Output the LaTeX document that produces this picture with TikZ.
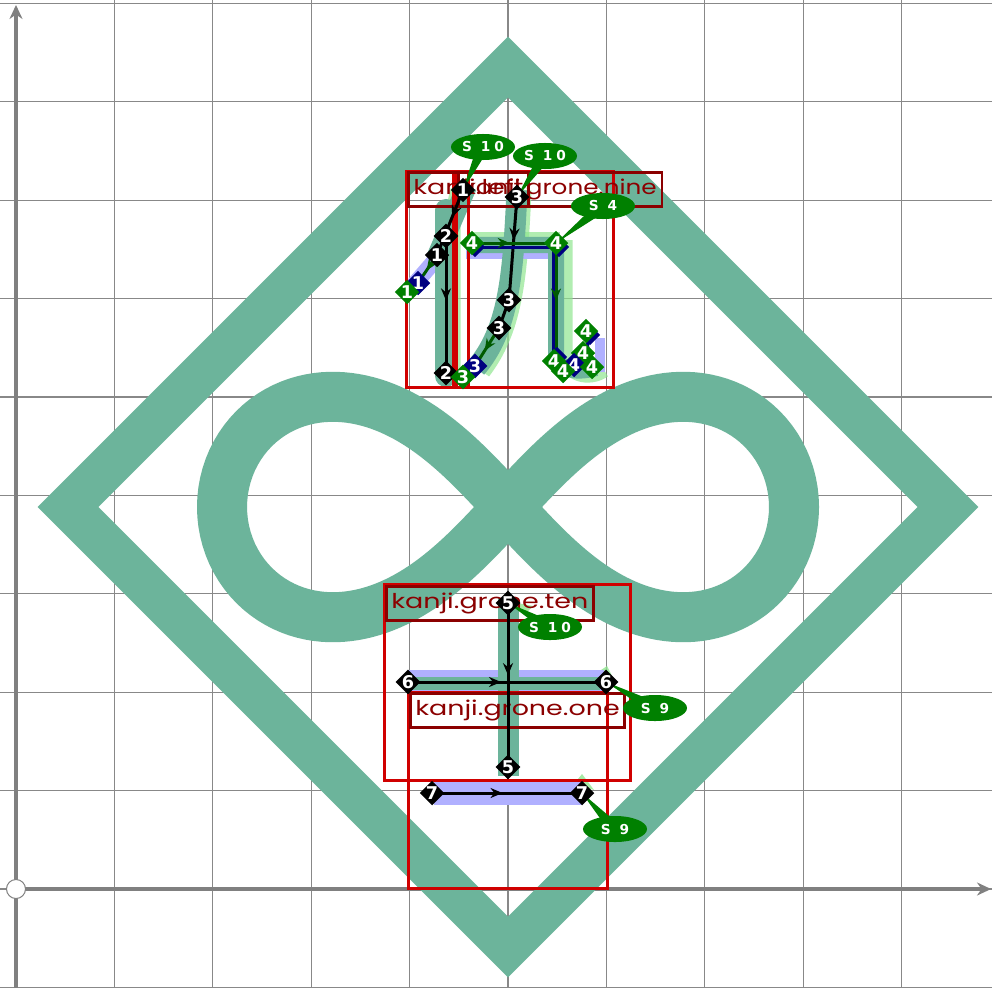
\documentclass[tikz,border=0pt]{standalone}
\usepackage{fontspec}
\setmainfont{DejaVu Sans}
\newfontfamily\labelfont{Poppins}
\newfontfamily\callfont{DejaVu Sans}[LetterSpace=30]
\usetikzlibrary{shapes.geometric,arrows.meta,decorations.markings,calc}
\definecolor{teal2}{RGB}{108,180,155}
\definecolor{lav}{RGB}{176,176,255}
\definecolor{lgreen}{RGB}{144,230,144}
\definecolor{cgreen}{RGB}{0,128,0}
\definecolor{dkgreen}{RGB}{0,90,0}
\definecolor{navy2}{RGB}{0,0,128}
\definecolor{gred}{RGB}{208,0,0}
\definecolor{lred}{RGB}{139,0,0}
\definecolor{gridgray}{RGB}{136,136,136}
\definecolor{axisgray}{RGB}{128,128,128}
\tikzset{
  mk/.style={diamond, aspect=1, inner sep=0pt, minimum size=0.21cm, text=white, font=\bfseries\fontsize{5}{5}\selectfont},
  mkblack/.style={mk, fill=black},
  mkgreen/.style={mk, fill=cgreen},
  mkblue/.style={mk, fill=navy2},
  callout/.style={ellipse, fill=cgreen, inner sep=0pt, minimum width=0.64cm, minimum height=0.26cm, text=white, font=\callfont\bfseries\fontsize{3.9}{4}\selectfont},
  grp/.style={draw=gred, line width=0.03cm},
  lbl/.style={draw=lred, line width=0.025cm, text=lred, anchor=north west, inner xsep=0.05cm, inner ysep=0pt, minimum height=0.34cm, font=\labelfont\fontsize{5.8}{6}\selectfont},
  blk/.style={line width=0.03cm, black},
  dkl/.style={line width=0.03cm, dkgreen},
  nvl/.style={line width=0.03cm, navy2},
  glyph/.style={teal2, line width=0.21cm},
  shadeband/.style={lav, line width=0.18cm},
  ghost/.style={lgreen, opacity=0.7, line width=0.15cm},
  gridline/.style={gridgray, line width=0.012cm},
  midarrow/.style={postaction={decorate}, decoration={markings, mark=at position #1 with {\arrow{Stealth[length=0.12cm, width=0.1cm]}}}},
}
\newcommand\tailto[2]{\fill[cgreen] (#2) -- ($(#1.center)!0.06cm!90:(#2)$) -- ($(#1.center)!0.06cm!-90:(#2)$) -- cycle;}
\begin{document}
\begin{tikzpicture}[x=0.01cm, y=-0.01cm]
\useasboundingbox (0,0) rectangle (992,988);
\fill[white] (0,0) rectangle (992,988);
% grid
\foreach \k in {1,...,9} \draw[gridline] ({16+98.4*\k},0) -- ({16+98.4*\k},988);
\foreach \k in {-1,...,9} \draw[gridline] (0,{889-98.4*\k}) -- (992,{889-98.4*\k});
% axes
\coordinate (ybot) at (16,988);
\coordinate (ytop) at (16,5);
\coordinate (xend) at (991,889);
\coordinate (orig) at (16,889);
\draw[axisgray, line width=0.04cm, -{Stealth[length=0.14cm, width=0.13cm]}] (ybot) -- (ytop);
\draw[axisgray, line width=0.04cm, -{Stealth[length=0.14cm, width=0.13cm]}] (orig) -- (xend);
\node[circle, draw=axisgray, fill=white, minimum size=0.19cm, inner sep=0pt, line width=0.01cm] (O) at (orig) {};
% diamond frame
\draw[teal2, line width=0.43cm, line join=miter] (508,67) -- (948,507) -- (508,947) -- (68,507) -- cycle;
% infinity
\draw[teal2, line width=0.5cm, line join=round] plot[domain=0:360, samples=241, variable=\t]
  ({508+286*cos(\t)/(1+sin(\t)*sin(\t))}, {507+1.09*286*sin(\t)*cos(\t)/(1+sin(\t)*sin(\t))}) -- cycle;

% ===== bottom kanji: ten and one =====
\coordinate (p5a) at (508,603); \coordinate (p5b) at (508,767);
\coordinate (p6a) at (408,682); \coordinate (p6b) at (606,682);
\coordinate (p7a) at (432,793); \coordinate (p7b) at (582,793);
% ghosts
\fill[lgreen, opacity=0.8] (512,602) -- (533,606) -- (526,613) -- cycle;
\fill[lgreen, opacity=0.8] (598,672) -- (607,666) -- (614,680) -- cycle;
\fill[lgreen, opacity=0.8] (397,682) -- (408,674) -- (408,690) -- cycle;
\fill[lgreen, opacity=0.8] (574,784) -- (582,774) -- (594,790) -- cycle;
\fill[lgreen, opacity=0.8] (420,793) -- (430,786) -- (430,799) -- cycle;
% lavender bands
\fill[lav] (408,670) rectangle (604,692);
\fill[lav] (434,782) rectangle (582,805);
% teal glyph
\fill[teal2] (412,677) rectangle (600,690);
\draw[glyph] (508,598) -- (508,776);
% group boxes and labels
\draw[grp] (384,584) rectangle (630,780);
\draw[grp] (408,692) rectangle (607,888);
\node[lbl] (Lten) at (385,585) {\scalebox{1.32}[1]{kanji.grone.ten}};
\node[lbl] (Lone) at (409,692) {\scalebox{1.32}[1]{kanji.grone.one}};
% stroke lines
\draw[blk, midarrow=0.44] (p5a) -- (p5b);
\draw[blk, midarrow=0.47] (p6a) -- (p6b);
\draw[blk, midarrow=0.47] (p7a) -- (p7b);

% ===== top kanji =====
\coordinate (q1a) at (463,190); \coordinate (q1b) at (437,255); \coordinate (q1c) at (418,283); \coordinate (q1d) at (407,292);
\coordinate (q2a) at (446,236); \coordinate (q2b) at (446,373);
\coordinate (q3a) at (517,197); \coordinate (q3b) at (509,300); \coordinate (q3c) at (499,328); \coordinate (q3d) at (475,366); \coordinate (q3e) at (463,377);
\coordinate (q4a) at (472,243); \coordinate (q4b) at (556,243); \coordinate (q4c) at (556,358);
% ghosts
\draw[ghost] (458,190) .. controls (453,210) .. (453,240) -- (453,376);
\draw[ghost] (524,190) .. controls (520,280) and (515,330) .. (483,372);
\draw[ghost] (470,240) -- (560,240);
\draw[ghost] (565,240) -- (565,352) .. controls (565,376) and (590,380) .. (604,370);
\draw[ghost, line width=0.08cm] (430,262) -- (418,276);
% lavender
\draw[shadeband, line cap=round, line width=0.16cm] (437,258) -- (412,287);
\draw[shadeband, line width=0.14cm] (496,330) .. controls (488,350) .. (470,370);
\draw[shadeband, line width=0.13cm] (466,252) -- (553,252);
\draw[shadeband, line width=0.1cm] (600,338) -- (600,372);
% teal glyph
\draw[glyph, line width=0.2cm] (467,186) -- (437,256);
\draw[glyph, line width=0.22cm, line cap=round] (446,210) -- (446,376);
\draw[glyph] (517,190) .. controls (513,280) and (508,330) .. (476,368);
\draw[glyph, line width=0.16cm] (468,245) -- (556,245) -- (556,352) .. controls (556,370) and (575,374) .. (596,368);
% group boxes and labels
\draw[grp] (406,171) rectangle (613,387);
\draw[grp] (406,171) rectangle (453,387);
\draw[grp] (456,171) rectangle (613,387);
\draw[grp] (468,171) rectangle (613,387);
\node[lbl] (Lleft) at (407,171) {\scalebox{1.32}[1]{kanji.left}\hspace{0.12cm}};
\node[lbl] (Lnine) at (457,171) {\scalebox{1.21}[1]{kanji.grone.nine}};
% stroke lines
\draw[blk, midarrow=0.42] (q1a) -- (q1b);
\draw[dkl, midarrow=0.55] (q1b) -- (q1c);
\draw[blk, midarrow=0.47] (q2a) -- (q2b);
\draw[blk, midarrow=0.42] (q3a) -- (q3b);
\draw[blk] (q3b) -- (q3c);
\draw[dkl, midarrow=0.6] (q3c) -- (q3d);
\draw[nvl] ($(q4a)+(0,4)$) -- ($(q4b)+(-3,4)$) -- ($(q4c)+(-3,0)$);
\draw[dkl, midarrow=0.45] (q4a) -- (q4b);
\draw[dkl, midarrow=0.5] (q4b) -- (q4c);
\draw[nvl] (q4c) -- (573,366) -- (590,367) -- (586,331);

% callout tails
\node[callout, opacity=0] (cA) at (483,147) {};
\node[callout, opacity=0] (cB) at (545,156) {};
\node[callout, opacity=0] (cC) at (603,206) {};
\node[callout, opacity=0] (cD) at (550,627) {};
\node[callout, opacity=0] (cE) at (655,708) {};
\node[callout, opacity=0] (cF) at (615,829) {};
\tailto{cA}{q1a}
\tailto{cB}{q3a}
\tailto{cC}{q4b}
\tailto{cD}{p5a}
\tailto{cE}{p6b}
\tailto{cF}{p7b}

% markers bottom
\node[mkblack] (m5a) at (p5a) {5};
\node[mkblack] (m5b) at (p5b) {5};
\node[mkblack] (m6a) at (p6a) {6};
\node[mkblack] (m6b) at (p6b) {6};
\node[mkblack] (m7a) at (p7a) {7};
\node[mkblack] (m7b) at (p7b) {7};
% markers top
\node[mkblack] (n1a) at (q1a) {1};
\node[mkblack] (n2a) at (q2a) {2};
\node[mkblack] (n1b) at (q1b) {1};
\node[mkblue] (n1c) at (q1c) {1};
\node[mkgreen] (n1d) at (q1d) {1};
\node[mkblack] (n2b) at (q2b) {2};
\node[mkblue] (n3d) at (q3d) {3};
\node[mkgreen] (n3e) at (q3e) {3};
\node[mkblack] (n3a) at (q3a) {3};
\node[mkblack] (n3b) at (q3b) {3};
\node[mkblack] (n3c) at (q3c) {3};
\node[mkblue] (s4a) at ($(q4a)+(3,4)$) {};
\node[mkgreen] (n4a) at (q4a) {4};
\node[mkblue] (s4b) at ($(q4b)+(3,4)$) {};
\node[mkgreen] (n4b) at (q4b) {4};
\node[mkblue] (s4c) at (590,335) {};
\node[mkgreen] (n4c) at (586,331) {4};
\node[mkgreen] (n4d) at (583,353) {4};
\node[mkblue] (s4e) at (557,357) {};
\node[mkgreen] (n4e) at (554,361) {4};
\node[mkblue] (n4f) at (574,365) {4};
\node[mkgreen] (n4g) at (563,371) {4};
\node[mkgreen] (n4h) at (592,367) {4};

% callouts
\node[callout] (cA2) at (cA) {S 10};
\node[callout] (cB2) at (cB) {S 10};
\node[callout] (cC2) at (cC) {S 4};
\node[callout] (cD2) at (cD) {S 10};
\node[callout] (cE2) at (cE) {S 9};
\node[callout] (cF2) at (cF) {S 9};
\end{tikzpicture}
\end{document}
